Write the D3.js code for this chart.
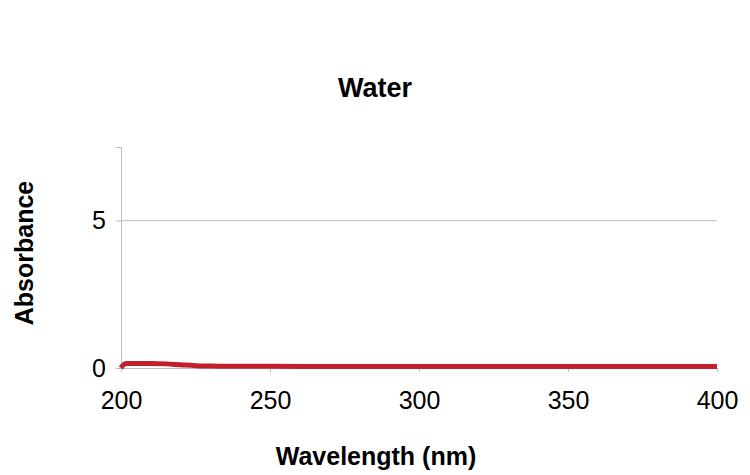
<!DOCTYPE html>
<html>
<head>
<meta charset="UTF-8">
<title>Water</title>
<script src="https://d3js.org/d3.v7.min.js"></script>
<style>
  body { margin: 0; background: #fff; }
  svg text { font-family: "Liberation Sans", Arial, sans-serif; fill: #000; }
</style>
</head>
<body>
<div id="chart"></div>
<script>
// spectrum
var wavelengths = [200, 201, 202, 205, 210, 215, 220, 225, 230, 240, 250, 275, 300, 325, 350, 375, 400];
var absorbance  = [0.0, 0.12, 0.15, 0.15, 0.15, 0.14, 0.11, 0.08, 0.07, 0.06, 0.06, 0.05, 0.05, 0.05, 0.05, 0.05, 0.05];
var xTicks = [200, 250, 300, 350, 400];
var yTicks = [0, 5];

var width = 750, height = 475;
// plot area edges (note: "top" would clash with window.top)
var plotLeft = 121, plotRight = 717, plotTop = 147, plotBottom = 368;

var svg = d3.select("#chart").append("svg")
    .attr("width", width)
    .attr("height", height);

var x = d3.scaleLinear().domain([200, 400]).range([plotLeft, plotRight]);
var y = d3.scaleLinear().domain([0, 7.5]).range([plotBottom, plotTop]);

// gridline at 5
svg.append("g").selectAll("line")
    .data(yTicks.filter(function (d) { return d > 0; }))
    .enter().append("line")
    .attr("x1", plotLeft).attr("x2", plotRight)
    .attr("y1", function (d) { return y(d); })
    .attr("y2", function (d) { return y(d); })
    .attr("stroke", "#bdbdbd").attr("stroke-width", 1);

// y axis
var yAxis = svg.append("g")
    .attr("transform", "translate(" + plotLeft + ",0)")
    .call(d3.axisLeft(y).tickValues(yTicks).tickSize(5).tickPadding(10));
yAxis.select(".domain").attr("stroke", "#bdbdbd");
yAxis.selectAll(".tick line").attr("stroke", "#bdbdbd");
yAxis.selectAll("text").attr("font-size", 25).attr("font-family", "Liberation Sans, Arial, sans-serif");

// x axis
var xAxis = svg.append("g")
    .attr("transform", "translate(0," + plotBottom + ")")
    .call(d3.axisBottom(x).tickValues(xTicks).tickSize(4).tickPadding(19));
xAxis.select(".domain").attr("stroke", "#bdbdbd");
xAxis.selectAll(".tick line").attr("stroke", "#bdbdbd");
xAxis.selectAll("text").attr("font-size", 25).attr("font-family", "Liberation Sans, Arial, sans-serif");

// the spectrum
var line = d3.line()
    .x(function (d, i) { return x(wavelengths[i]); })
    .y(function (d) { return y(d); })
    .curve(d3.curveMonotoneX);

svg.append("path")
    .datum(absorbance)
    .attr("d", line)
    .attr("fill", "none")
    .attr("stroke", "#c0202a")
    .attr("stroke-width", 5)
    .attr("stroke-linejoin", "round");

// title and axis titles
svg.append("text")
    .attr("x", 375).attr("y", 97)
    .attr("text-anchor", "middle")
    .attr("font-size", 27).attr("font-weight", "bold")
    .text("Water");

svg.append("text")
    .attr("x", 376).attr("y", 465)
    .attr("text-anchor", "middle")
    .attr("font-size", 25).attr("font-weight", "bold")
    .text("Wavelength (nm)");

svg.append("text")
    .attr("transform", "translate(33,253) rotate(-90)")
    .attr("text-anchor", "middle")
    .attr("font-size", 25).attr("font-weight", "bold")
    .text("Absorbance");
</script>
</body>
</html>
